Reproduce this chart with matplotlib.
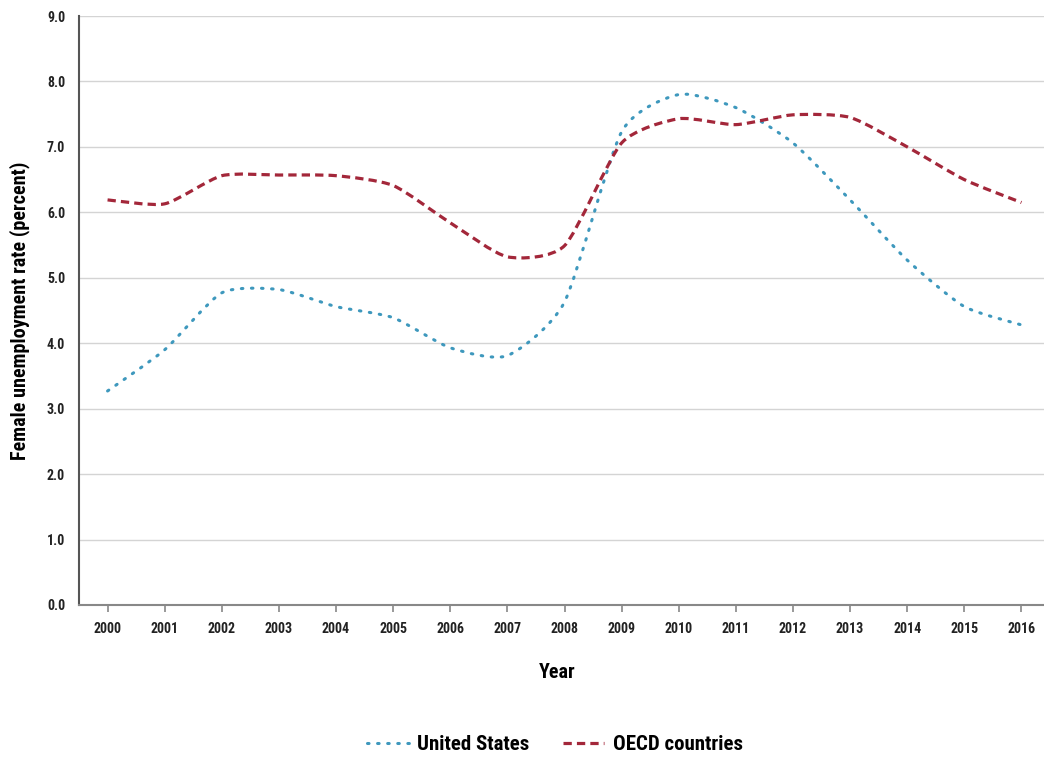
import numpy as np
import matplotlib
matplotlib.use("Agg")
import matplotlib.pyplot as plt
from matplotlib.path import Path
from matplotlib.patches import PathPatch
from matplotlib.lines import Line2D

plt.rcParams['font.family'] = ['Roboto Condensed', 'Archivo Narrow', 'PT Sans Narrow', 'DejaVu Sans']

years = list(range(2000, 2017))
us_rate = [3.27, 3.9, 4.77, 4.82, 4.56, 4.39, 3.93, 3.81, 4.63, 7.23, 7.8, 7.6, 7.06, 6.19, 5.27, 4.56, 4.28]
oecd_rate = [6.19, 6.13, 6.56, 6.57, 6.56, 6.41, 5.84, 5.32, 5.49, 7.06, 7.43, 7.34, 7.49, 7.45, 7.0, 6.5, 6.15]
y_ticks = [0, 1, 2, 3, 4, 5, 6, 7, 8, 9]

US_COLOR = '#3e98bd'
OECD_COLOR = '#a3273a'
US_LW, OECD_LW = 2.2, 2.3
US_DASH = (0, (0.5, 2.8))
OECD_DASH = (0, (2.6, 1.6))


def smooth_path(x, y, t=0.11):
    # bezier through the points, like excel smoothed lines
    x = np.asarray(x, float)
    y = np.asarray(y, float)
    verts = [(x[0], y[0])]
    codes = [Path.MOVETO]
    n = len(x)
    for i in range(n - 1):
        p0 = (x[max(i - 1, 0)], y[max(i - 1, 0)])
        p1 = (x[i], y[i])
        p2 = (x[i + 1], y[i + 1])
        p3 = (x[min(i + 2, n - 1)], y[min(i + 2, n - 1)])
        c1 = (p1[0] + (p2[0] - p0[0]) * t, p1[1] + (p2[1] - p0[1]) * t)
        c2 = (p2[0] - (p3[0] - p1[0]) * t, p2[1] - (p3[1] - p1[1]) * t)
        verts += [c1, c2, p2]
        codes += [Path.CURVE4] * 3
    return Path(verts, codes)


fig = plt.figure(figsize=(10.44, 7.59), dpi=100)
ax = fig.add_axes([79 / 1044, 1 - 605 / 759, (1050 - 79) / 1044, (605 - 16) / 759])

ax.add_patch(PathPatch(smooth_path(years, us_rate), fill=False, edgecolor=US_COLOR,
                       lw=US_LW, linestyle=US_DASH, capstyle='round'))
ax.add_patch(PathPatch(smooth_path(years, oecd_rate), fill=False, edgecolor=OECD_COLOR,
                       lw=OECD_LW, linestyle=OECD_DASH))

ax.set_xlim(1999.5, 2016.5)
ax.set_ylim(0, 9)
ax.set_xticks(years)
ax.set_xticklabels([str(y) for y in years], fontsize=10, fontweight='bold')
ax.set_yticks(y_ticks)
ax.set_yticklabels(['%.1f' % v for v in y_ticks], fontsize=10, fontweight='bold')

ax.grid(axis='y', color='#d4d4d4', lw=1)
ax.set_axisbelow(True)
for s in ['top', 'right']:
    ax.spines[s].set_visible(False)
ax.spines['left'].set_color('#555555')
ax.spines['left'].set_linewidth(1.5)
ax.spines['bottom'].set_color('#888888')
ax.spines['bottom'].set_linewidth(1.5)
ax.tick_params(axis='y', length=0, pad=10, colors='#222222')
ax.tick_params(axis='x', length=5, width=1.2, color='#888888', pad=7, labelcolor='#222222')

ax.set_ylabel('Female unemployment rate (percent)', fontsize=14.5, fontweight='bold', labelpad=12)
fig.text(557 / 1044, 1 - 672 / 759, 'Year', fontsize=14.5, fontweight='bold', ha='center', va='center')

handles = [Line2D([], [], color=US_COLOR, lw=US_LW, linestyle=US_DASH, dash_capstyle='round'),
           Line2D([], [], color=OECD_COLOR, lw=OECD_LW, linestyle=OECD_DASH)]
fig.legend(handles, ['United States', 'OECD countries'], loc='center', ncol=2,
           bbox_to_anchor=(555 / 1044, 1 - 745 / 759), frameon=False,
           prop={'size': 15, 'weight': 'bold'}, handlelength=2.0, handletextpad=0.4,
           columnspacing=1.6)

fig.savefig('out.png', dpi=100)
